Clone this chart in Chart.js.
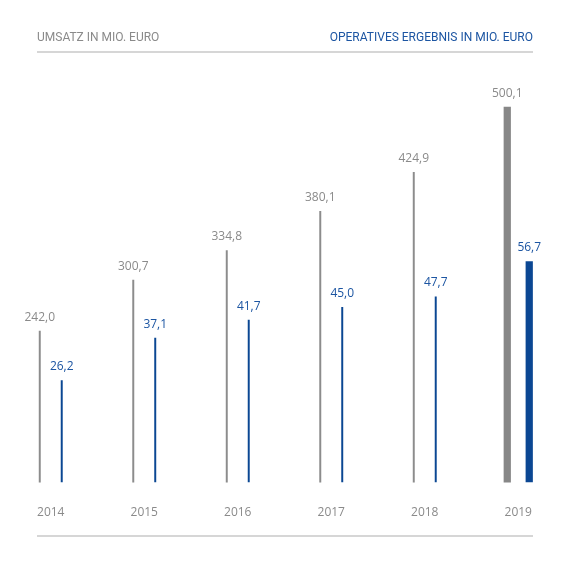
<!DOCTYPE html>
<html>
<head>
<meta charset="utf-8">
<script src="https://cdn.jsdelivr.net/npm/chart.js@4.4.1/dist/chart.umd.min.js"></script>
<style>
    html, body {
        margin: 0;
        padding: 0;
        background: #ffffff;
    }
    #chartBox {
        width: 570px;
        height: 570px;
    }
</style>
</head>
<body>
<div id="chartBox"><canvas id="umsatzChart"></canvas></div>
<script>
const years = ['2014', '2015', '2016', '2017', '2018', '2019'];
const umsatz = [242.0, 300.7, 334.8, 380.1, 424.9, 500.1];
const ergebnis = [26.2, 37.1, 41.7, 45.0, 47.7, 56.7];
const umsatzTitle = 'UMSATZ IN MIO. EURO';
const ergebnisTitle = 'OPERATIVES ERGEBNIS IN MIO. EURO';

const GREY = '#8c8c8c';
const GREY_TEXT = '#8a8a8a';
const BLUE = '#0b4793';
const BLUE_TEXT = '#1c55a2';
const RULE = '#d6d6d6';
const FONT = '"Open Sans", "Noto Sans", sans-serif';
const HEADER_FONT = 'Roboto, "Open Sans", sans-serif';

const lastIndex = years.length - 1;

// the current year is drawn as a wide bar, the older ones as thin lines
const onlyOld = (values) => values.map((v, i) => i === lastIndex ? null : v);
const onlyLast = (values) => values.map((v, i) => i === lastIndex ? v : null);

const formatValue = (value) => value.toFixed(1).replace('.', ',');

class FrameDecorator {
    constructor(left, right, topRule, bottomRule) {
        this._left = left;
        this._right = right;
        this._topRule = topRule;
        this._bottomRule = bottomRule;
        this.id = 'frameDecorator';
    }

    _rule(ctx, y) {
        ctx.save();
        ctx.strokeStyle = RULE;
        ctx.lineWidth = 2;
        ctx.beginPath();
        ctx.moveTo(this._left, y);
        ctx.lineTo(this._right, y);
        ctx.stroke();
        ctx.restore();
    }

    beforeDraw(chart) {
        const ctx = chart.ctx;
        this._rule(ctx, this._topRule);
        this._rule(ctx, this._bottomRule);

        ctx.save();
        ctx.font = `12px ${HEADER_FONT}`;
        ctx.textBaseline = 'alphabetic';
        ctx.fillStyle = GREY_TEXT;
        ctx.textAlign = 'left';
        ctx.fillText(umsatzTitle, this._left, this._topRule - 11);
        ctx.fillStyle = BLUE_TEXT;
        ctx.textAlign = 'right';
        ctx.fillText(ergebnisTitle, this._right, this._topRule - 11);
        ctx.restore();
    }

    afterDatasetsDraw(chart) {
        const ctx = chart.ctx;
        ctx.save();
        ctx.font = `12px ${FONT}`;
        ctx.textAlign = 'center';
        ctx.textBaseline = 'alphabetic';
        chart.data.datasets.forEach((dataset, di) => {
            const meta = chart.getDatasetMeta(di);
            ctx.fillStyle = dataset.labelColor;
            meta.data.forEach((bar, i) => {
                const value = dataset.data[i];
                if (value === null || value === undefined) {
                    return;
                }
                ctx.fillText(formatValue(value), bar.x, bar.y - 10);
            });
        });
        ctx.restore();
    }
}

const barDefaults = {
    borderWidth: 0,
    borderSkipped: false,
    categoryPercentage: 0.47,
    skipNull: true,
};

new Chart('umsatzChart', {
    type: 'bar',
    data: {
        labels: years,
        datasets: [
            {
                ...barDefaults,
                label: umsatzTitle,
                data: onlyOld(umsatz),
                backgroundColor: GREY,
                labelColor: GREY_TEXT,
                barPercentage: 0.09,
                yAxisID: 'yUmsatz'
            },
            {
                ...barDefaults,
                label: ergebnisTitle,
                data: onlyOld(ergebnis),
                backgroundColor: BLUE,
                labelColor: BLUE_TEXT,
                barPercentage: 0.09,
                yAxisID: 'yErgebnis'
            },
            {
                ...barDefaults,
                label: umsatzTitle,
                data: onlyLast(umsatz),
                backgroundColor: '#878787',
                labelColor: GREY_TEXT,
                barPercentage: 0.33,
                yAxisID: 'yUmsatz'
            },
            {
                ...barDefaults,
                label: ergebnisTitle,
                data: onlyLast(ergebnis),
                backgroundColor: BLUE,
                labelColor: BLUE_TEXT,
                barPercentage: 0.33,
                yAxisID: 'yErgebnis'
            }
        ]
    },
    options: {
        responsive: true,
        maintainAspectRatio: false,
        animation: false,
        layout: {
            padding: {top: 100, left: 4, right: 5, bottom: 35}
        },
        scales: {
            x: {
                grid: {display: false},
                border: {display: false},
                ticks: {
                    color: GREY_TEXT,
                    font: {family: FONT, size: 12},
                    padding: 15
                }
            },
            yUmsatz: {
                type: 'linear',
                display: false,
                position: 'left',
                min: 67,
                max: 508
            },
            yErgebnis: {
                type: 'linear',
                display: false,
                position: 'right',
                min: 0,
                max: 98
            }
        },
        plugins: {
            legend: {display: false},
            tooltip: {enabled: false}
        }
    },
    plugins: [new FrameDecorator(37, 533, 52, 536)]
});
</script>
</body>
</html>
